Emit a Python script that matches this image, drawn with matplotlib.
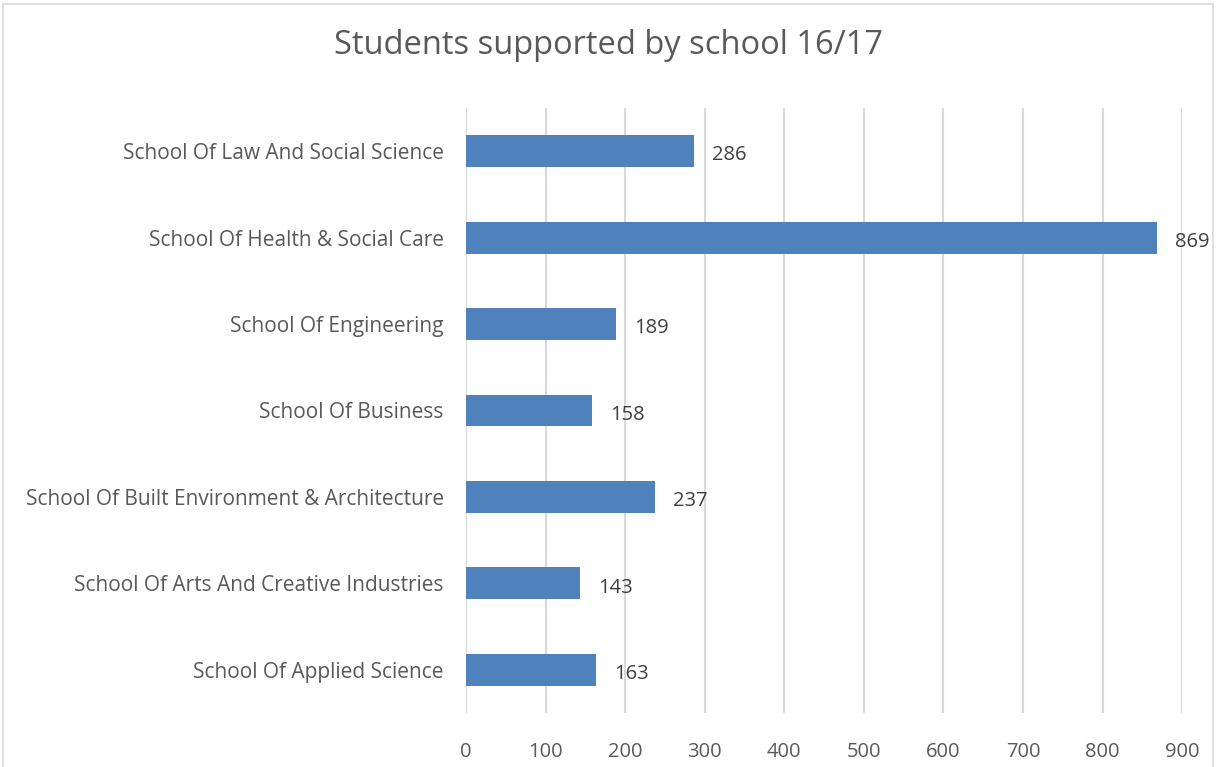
import matplotlib.pyplot as plt
from matplotlib.patches import Rectangle

schools = ['School Of Applied Science', 'School Of Arts And Creative Industries',
           'School Of Built Environment & Architecture', 'School Of Business',
           'School Of Engineering', 'School Of Health & Social Care',
           'School Of Law And Social Science']
students = [163, 143, 237, 158, 189, 869, 286]
ticks = [0, 100, 200, 300, 400, 500, 600, 700, 800, 900]

plt.rcParams['font.family'] = ['Open Sans', 'DejaVu Sans']

fig = plt.figure(figsize=(12.17, 7.67), dpi=100)
ax = fig.add_axes([0.3829, 0.0704, 0.5884, 0.7888])

ax.barh(range(len(schools)), students, height=0.37, color='#4F81BD', zorder=3)
for i, v in enumerate(students):
    ax.annotate(str(v), (v, i), xytext=(13, -3), textcoords='offset points',
                va='center', ha='left', fontsize=14.5, color='#404040')

ax.set_xlim(0, 900)
ax.set_ylim(-0.5, len(schools) - 0.5)
ax.set_xticks(ticks)
ax.set_yticks(range(len(schools)))
ax.set_yticklabels(schools)
ax.xaxis.grid(True, color='#D9D9D9', linewidth=1.5, zorder=0)
ax.tick_params(axis='x', length=0, pad=21, labelsize=14.5, labelcolor='#595959')
ax.tick_params(axis='y', length=0, pad=16, labelsize=15, labelcolor='#595959')
for s in ax.spines.values():
    s.set_visible(False)

fig.text(0.5, 0.941, 'Students supported by school 16/17', ha='center', va='center',
         fontsize=23.5, color='#595959')

# outer chart frame
fig.patches.append(Rectangle((0.0025, -0.01), 0.9945, 1.0048, transform=fig.transFigure,
                             fill=False, edgecolor='#D9D9D9', linewidth=1.2))

fig.savefig('out.png', dpi=100)
